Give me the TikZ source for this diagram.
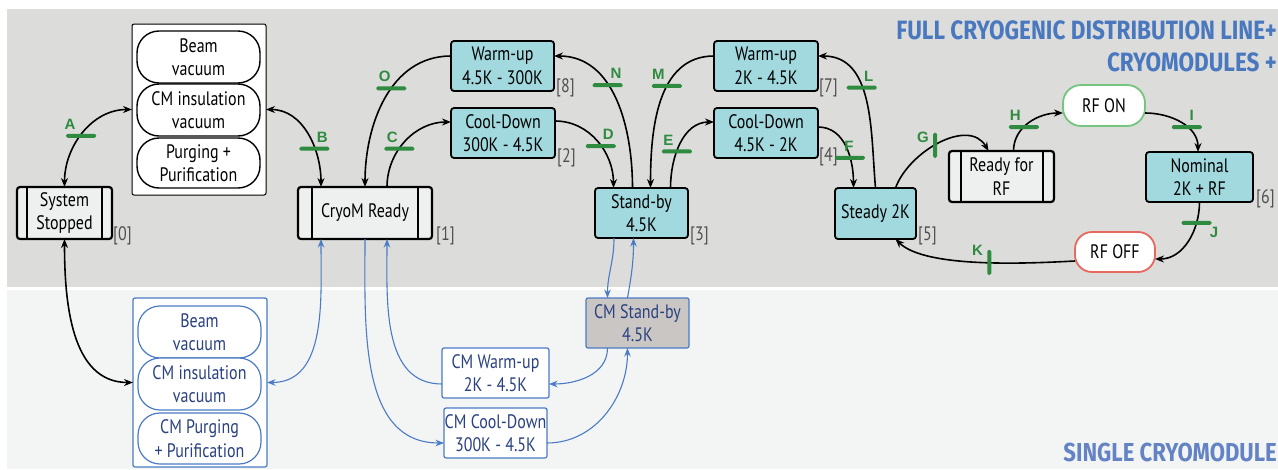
\documentclass[tikz,border=0pt]{standalone}
\usepackage{fontspec}
\setmainfont{PT Sans}[FakeStretch=0.82]
\newfontfamily\titlefont{Fira Sans}[FakeStretch=0.85]
\newfontfamily\letterfont{Liberation Sans}
\usetikzlibrary{arrows.meta}
\definecolor{topgray}{HTML}{DCDCDB}
\definecolor{botgray}{HTML}{F3F5F5}
\definecolor{cteal}{HTML}{A1D9DE}
\definecolor{boxwhite}{HTML}{EEF0F0}
\definecolor{tgreen}{HTML}{2E8B3F}
\definecolor{onborder}{HTML}{74C57D}
\definecolor{offborder}{HTML}{E9675C}
\definecolor{cblue}{HTML}{4A7BC4}
\definecolor{navy}{HTML}{2A4181}
\definecolor{cmsfill}{HTML}{CAC6C3}
\definecolor{titleblue}{HTML}{4A78BF}
\definecolor{subblue}{HTML}{6483C4}
\definecolor{bracketgray}{HTML}{505050}
\begin{document}
\begin{tikzpicture}[x=1pt,y=1pt,
  txt/.style={align=center, font=\fontsize{19.5}{23.5}\selectfont, inner sep=0pt, outer sep=0pt},
  stbox/.style={txt, draw=black, line width=2.2pt, rounded corners=3pt, fill=boxwhite},
  tbox/.style={txt, draw=black, line width=1.8pt, rounded corners=3pt, fill=cteal},
  pill/.style={txt, draw=black, line width=1.4pt, rounded corners=22pt, fill=white, minimum width=123, minimum height=52},
  bpill/.style={txt, text=navy, draw=cblue, line width=1.2pt, rounded corners=22pt, fill=white, minimum width=123, minimum height=52},
  cmbox/.style={txt, text=navy, draw=cblue, line width=1.2pt, rounded corners=2pt, fill=white},
  brk/.style={font=\fontsize{19.5}{20}\selectfont, text=bracketgray, inner sep=0pt, anchor=west},
  bk/.style={line width=1.6pt, draw=black},
  arr/.style={-{Stealth[length=9pt,width=7pt]}},
  darr/.style={{Stealth[length=9pt,width=7pt]}-{Stealth[length=9pt,width=7pt]}},
  bl/.style={line width=1.1pt, draw=cblue},
  barr/.style={-{Stealth[length=8.5pt,width=6.5pt]}},
  bdarr/.style={{Stealth[length=8.5pt,width=6.5pt]}-{Stealth[length=8.5pt,width=6.5pt]}},
  gbar/.style={fill=tgreen, draw=none, inner sep=0pt, outer sep=0pt, minimum width=30pt, minimum height=4pt, rounded corners=1.5pt},
  vgbar/.style={fill=tgreen, draw=none, inner sep=0pt, outer sep=0pt, minimum width=4pt, minimum height=25pt, rounded corners=1.5pt},
  lbl/.style={font=\letterfont\bfseries\fontsize{15}{15}\selectfont, text=tgreen, inner sep=0.5pt, label distance=3pt}
]
\useasboundingbox (0,0) rectangle (1278,-469);
\fill[topgray] (7,-9) rectangle (1278,-287);
\fill[botgray] (7,-290) rectangle (1278,-469);

% titles
\node[anchor=north east, font=\titlefont\bfseries\fontsize{26.5}{32}\selectfont, text=titleblue, align=right, inner sep=0pt] (title) at (1277,-20) {FULL CRYOGENIC DISTRIBUTION LINE+\\CRYOMODULES +};
\node[anchor=base east, font=\titlefont\bfseries\fontsize{26}{30}\selectfont, text=subblue, inner sep=0pt] (subtitle) at (1277,-461) {SINGLE CRYOMODULE};

% top states
\node[stbox, minimum width=95, minimum height=52] (ss) at (64.5,-213) {System\\Stopped};
\draw[line width=2pt] ([xshift=10pt]ss.north west) -- ([xshift=10pt]ss.south west);
\draw[line width=2pt] ([xshift=-10pt]ss.north east) -- ([xshift=-10pt]ss.south east);
\node[brk] (l0) at (113,-236) {[0]};

\node[draw=black, line width=1pt, fill=white, rounded corners=2pt, minimum width=134, minimum height=171, inner sep=0pt, outer sep=0pt] (bigbox) at (199,-109.5) {};
\node[pill] (p1) at (198.5,-57) {Beam\\vacuum};
\node[pill] (p2) at (198.5,-110) {CM insulation\\vacuum};
\node[pill, minimum height=50] (p3) at (198.5,-163) {Purging +\\Purification};

\node[stbox, minimum width=134, minimum height=52] (cr) at (365,-213) {CryoM Ready};
\draw[line width=2pt] ([xshift=14pt]cr.north west) -- ([xshift=14pt]cr.south west);
\draw[line width=2pt] ([xshift=-14pt]cr.north east) -- ([xshift=-14pt]cr.south east);
\node[brk] (l1) at (436,-236) {[1]};

\node[tbox, minimum width=103, minimum height=50] (wu1) at (502.5,-66) {Warm-up\\4.5K - 300K};
\node[brk] (l8) at (556,-88) {[8]};
\node[tbox, minimum width=104, minimum height=50] (cd1) at (503,-133) {Cool-Down\\300K - 4.5K};
\node[brk] (l2) at (557,-158) {[2]};
\node[tbox, minimum width=93, minimum height=50] (sb) at (641.5,-213) {Stand-by\\4.5K};
\node[brk] (l3) at (690,-236) {[3]};
\node[tbox, minimum width=104, minimum height=50] (wu2) at (766,-66) {Warm-up\\2K - 4.5K};
\node[brk] (l7) at (819,-88) {[7]};
\node[tbox, minimum width=104, minimum height=50] (cd2) at (766,-133) {Cool-Down\\4.5K - 2K};
\node[brk] (l4) at (819,-157) {[4]};
\node[tbox, minimum width=81, minimum height=51] (st) at (875.5,-213.5) {Steady 2K};
\node[brk] (l5) at (918,-236) {[5]};

\node[stbox, minimum width=105, minimum height=51] (rr) at (1001.5,-176.5) {Ready for\\RF};
\draw[line width=2pt] ([xshift=12pt]rr.north west) -- ([xshift=12pt]rr.south west);
\draw[line width=2pt] ([xshift=-11pt]rr.north east) -- ([xshift=-11pt]rr.south east);

\node[txt, draw=onborder, line width=1.8pt, fill=white, rounded corners=18pt, minimum width=82, minimum height=41] (on) at (1104,-105.5) {RF ON};
\node[tbox, minimum width=107, minimum height=50] (nom) at (1199.5,-177) {Nominal\\2K + RF};
\node[brk] (l6) at (1256,-199) {[6]};
\node[txt, draw=offborder, line width=1.8pt, fill=white, rounded corners=17pt, minimum width=80, minimum height=40] (off) at (1115,-252) {RF OFF};

% bottom states
\node[draw=cblue, line width=1.2pt, fill=white, rounded corners=2pt, minimum width=134, minimum height=169, inner sep=0pt, outer sep=0pt] (bbig) at (200,-382.5) {};
\node[bpill] (bp1) at (199.5,-332) {Beam\\vacuum};
\node[bpill] (bp2) at (199.5,-384) {CM insulation\\vacuum};
\node[bpill, minimum height=51] (bp3) at (199.5,-438.5) {CM Purging\\+ Purification};

\node[cmbox, fill=cmsfill, minimum width=103, minimum height=50] (cms) at (637.5,-323) {CM Stand-by\\4.5K};
\node[cmbox, minimum width=107, minimum height=50] (cmw) at (495.5,-373) {CM Warm-up\\2K - 4.5K};
\node[cmbox, minimum width=103, minimum height=50] (cmc) at (495.5,-433) {CM Cool-Down\\300K - 4.5K};

% black transitions
\draw[bk,darr] (ss.north) to[out=90,in=180] node[gbar,pos=0.47,label={[lbl,xshift=-11pt]above:A}]{} (bigbox.west);
\draw[bk,darr] (bigbox.east) to[out=0,in=90] node[gbar,pos=0.65,label={[lbl,xshift=8pt]above:B}]{} ([xshift=-44pt]cr.north);
\draw[bk,arr] ([xshift=22pt]cr.north) to[out=90,in=180] node[gbar,pos=0.4,label={[lbl,xshift=-7pt]above:C}]{} ([yshift=11pt]cd1.west);
\draw[bk,arr] ([yshift=10pt]wu1.west) to[out=180,in=90] node[gbar,pos=0.43,label={[lbl,xshift=-6.5pt]above:O}]{} (cr.north);
\draw[bk,arr] ([yshift=12pt]cd1.east) to[out=0,in=90] node[gbar,pos=0.56,label={[lbl,xshift=7.5pt]above:D}]{} ([xshift=-28pt]sb.north);
\draw[bk,arr] ([xshift=-9pt]sb.north) to[out=90,in=0] node[gbar,pos=0.6,label={[lbl,xshift=8.5pt]above:N}]{} ([yshift=10pt]wu1.east);
\draw[bk,arr] ([yshift=10pt]wu2.west) to[out=180,in=90] node[gbar,pos=0.4,label={[lbl,xshift=-8.5pt]above:M}]{} ([xshift=9pt]sb.north);
\draw[bk,arr] ([xshift=29pt]sb.north) to[out=90,in=180] node[gbar,pos=0.4,label={[lbl,xshift=-8.5pt]above:E}]{} ([yshift=11pt]cd2.west);
\draw[bk,arr] ([yshift=6pt]cd2.east) to[out=0,in=90] node[gbar,pos=0.64,label={[lbl,xshift=-1pt]above:F}]{} ([xshift=-22pt]st.north);
\draw[bk,arr] (st.north) to[out=95,in=0] node[gbar,pos=0.59,label={[lbl,xshift=7pt]above:L}]{} ([yshift=10pt]wu2.east);
\draw[bk,arr] ([xshift=20pt]st.north) to[out=70,in=120] node[vgbar,pos=0.46,label={[lbl,yshift=8pt]left:G}]{} ([xshift=-13pt]rr.north);
\draw[bk,arr] ([xshift=12pt]rr.north) to[out=90,in=180] node[gbar,pos=0.4,label={[lbl,xshift=-8.5pt]above:H}]{} ([yshift=-7.5pt]on.west);
\draw[bk,arr] ([yshift=-7.5pt]on.east) to[out=0,in=90] node[gbar,pos=0.6,label={[lbl,xshift=5pt]above:I}]{} ([xshift=-1.5pt]nom.north);
\draw[bk,arr] (nom.south) to[out=-90,in=0] node[gbar,pos=0.25,label={[lbl,xshift=17.5pt,label distance=1pt]below:J}]{} ([yshift=-7pt]off.east);
\draw[bk,arr] ([yshift=-9pt]off.west) to[out=183,in=-45,looseness=0.6] node[vgbar,pos=0.46,label={[lbl,yshift=12.5pt]left:K}]{} ([xshift=20pt]st.south);
\draw[bk,darr] (ss.south) to[out=-90,in=180] (bbig.west);

% blue transitions
\draw[bl,bdarr] ([xshift=-44pt]cr.south) to[out=-90,in=0] (bbig.east);
\draw[bl,barr] (cr.south) to[out=-90,in=180] ([yshift=-10pt]cmc.west);
\draw[bl,barr] ([yshift=-11pt]cmw.west) to[out=180,in=-90] ([xshift=22pt]cr.south);
\draw[bl,barr] ([xshift=-27.5pt]sb.south) to[out=-90,in=90] ([xshift=-30pt]cms.north);
\draw[bl,barr] ([xshift=-10pt]cms.north) to[out=80,in=-90] ([xshift=-8pt]sb.south);
\draw[bl,barr] ([xshift=-30pt]cms.south) to[out=-90,in=0] ([yshift=-11pt]cmw.east);
\draw[bl,barr] ([yshift=-10pt]cmc.east) to[out=0,in=-90] ([xshift=-10pt]cms.south);
\end{tikzpicture}
\end{document}
